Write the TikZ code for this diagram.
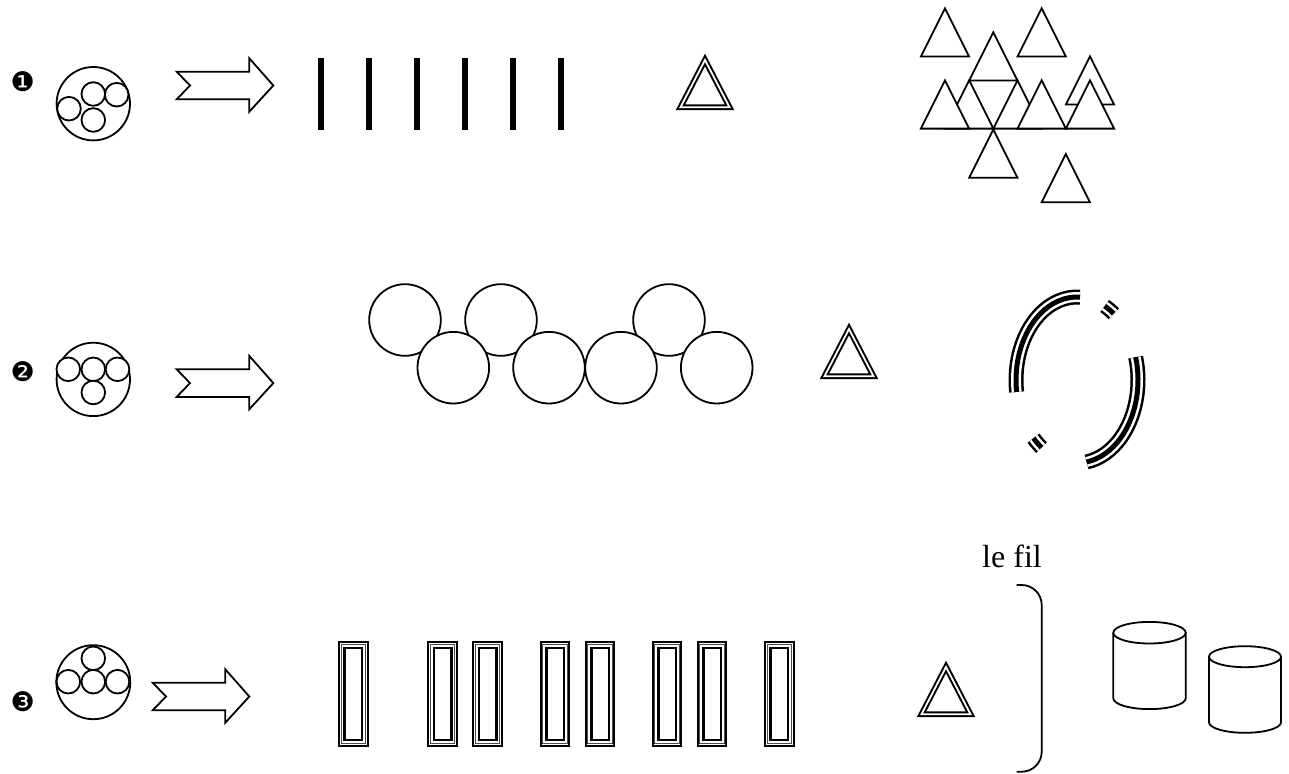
\documentclass[tikz,border=0pt]{standalone}
\usepackage{fontspec}
\setmainfont{Liberation Serif}
\newfontfamily\djv{DejaVu Sans}
\begin{document}
\begin{tikzpicture}[x=1pt,y=-1pt,line join=miter,
  lw/.style={line width=1.8pt},
  numlbl/.style={font=\djv\fontsize{27}{27}\selectfont,inner sep=0pt},
  barrow/.pic={\draw[lw,fill=white] (0,0) -- (72.6,0) -- (72.6,-13.4) -- (96.6,13.8) -- (72.6,40) -- (72.6,27.6) -- (0,27.6) -- (13.3,13.8) -- cycle;},
  dtri/.pic={\draw[line width=2pt,double=white,double distance=1.8pt] (0,6) -- (-24.5,53.25) -- (24.5,53.25) -- cycle;},
  tri/.pic={\draw[lw,fill=white] (0,0) -- (-24.15,48.3) -- (24.15,48.3) -- cycle;},
  rod/.pic={\draw[line width=2pt] (0,0) rectangle (28.7,103.4);
            \draw[line width=1pt,black!70] (2.2,2.2) rectangle (26.5,101.2);
            \draw[line width=2.6pt] (5.6,5.6) rectangle (23.1,97.8);},
  bar/.style={line width=6.5pt},
  cyl/.style={lw,fill=white}]
\useasboundingbox (0,0) rectangle (1289,773);

% ---------- row 1 ----------
\node[numlbl] (n1) at (22.7,81.7) {❶};
\draw[lw] (93.3,103.7) circle[radius=36.7];
\foreach \p in {(69,108.7),(93.3,94),(116.7,94.7),(93.3,120)}
  \draw[lw,fill=white] \p circle[radius=11.8];
\pic at (176.7,71.7) {barrow};
\foreach \x in {321,369,417,465,513,561}
  \draw[bar] (\x,58.3) -- (\x,130);
\pic at (705,54) {dtri};
% triangle cluster
\foreach \p in {(945,8.3),(1041.7,8.3),(993.3,32.3),(969.2,80.3),(1017.5,80.3),(945,80.3),(1041.7,80.3),(1090,56.3),(1090,80.3),(993.3,129.5),(1065.8,154)}
  \pic at \p {tri};

% ---------- row 2 ----------
\node[numlbl] (n2) at (22.7,371.7) {❷};
\draw[lw] (93.3,379.4) circle[radius=36.7];
\foreach \p in {(68.3,369.3),(93.3,369.3),(117.5,369.3),(93.3,392.5)}
  \draw[lw,fill=white] \p circle[radius=11.8];
\pic at (176.7,369.3) {barrow};
\foreach \p in {(405,320),(501,320),(669,320),(453.3,367.7),(549,367.7),(621,367.7),(716.7,367.7)}
  \draw[lw,fill=white] \p circle[radius=35.8];
\pic at (849,323) {dtri};
% triple-line ellipse pieces
\foreach \a/\b in {171.7/272.8,-16/81,-63/-53,125.5/135.5}{
  \draw[line width=15pt,black] ([shift={(\a:61 and 83)}]1077,380) arc[start angle=\a,end angle=\b,x radius=61,y radius=83];
  \draw[line width=10pt,white] ([shift={(\a:61 and 83)}]1077,380) arc[start angle=\a,end angle=\b,x radius=61,y radius=83];
  \draw[line width=5pt,black] ([shift={(\a:61 and 83)}]1077,380) arc[start angle=\a,end angle=\b,x radius=61,y radius=83];
}

% ---------- row 3 ----------
\node[numlbl] (n3) at (22.7,701.7) {❸};
\draw[lw] (93.3,682.2) circle[radius=37];
\foreach \p in {(93.3,658.3),(68.3,681.7),(93.3,681.7),(117.5,681.7)}
  \draw[lw,fill=white] \p circle[radius=11.8];
\pic at (152.7,682.7) {barrow};
\foreach \x in {339,428.3,473.3,540.7,585.7,652.7,697.7,765}
  \pic at (\x,642.3) {rod};
\pic at (946,661) {dtri};
\node[font=\fontsize{32}{32}\selectfont,anchor=base,inner sep=0pt] (fil) at (1012,567) {le fil};
\draw[lw,rounded corners=20pt] (1016.7,585) -- (1041.7,585) -- (1041.7,771.7) -- (1016.7,771.7);
% cylinders
\draw[cyl] (1113.3,632.7) -- (1113.3,698.3) arc[start angle=180,end angle=0,x radius=36.2,y radius=10.8] -- (1185.7,632.7);
\draw[lw] (1149.5,632.7) ellipse[x radius=36.2,y radius=10.8];
\draw[cyl] (1209,656.7) -- (1209,722.3) arc[start angle=180,end angle=0,x radius=36,y radius=10.5] -- (1281,656.7);
\draw[lw] (1245,656.7) ellipse[x radius=36,y radius=10.5];
\end{tikzpicture}
\end{document}
